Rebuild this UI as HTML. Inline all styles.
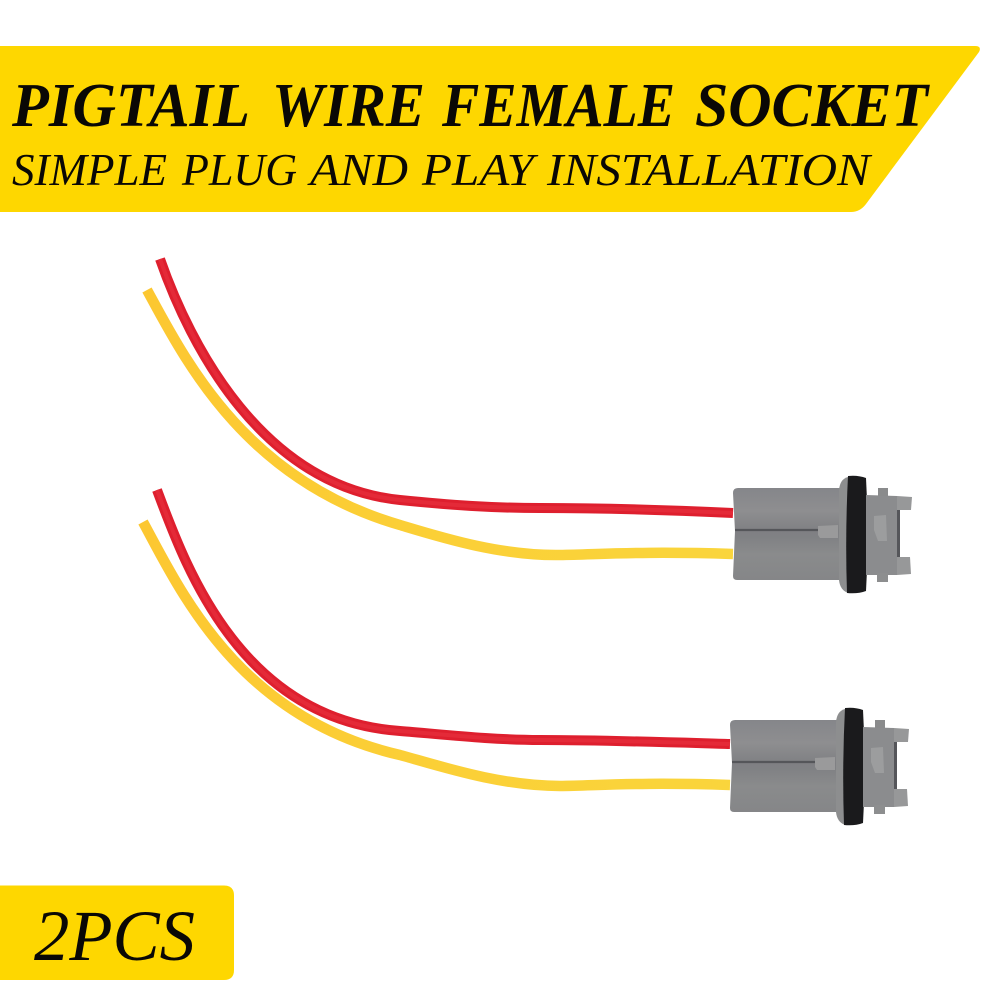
<!DOCTYPE html>
<html>
<head>
<meta charset="utf-8">
<style>
html,body{margin:0;padding:0;background:#fff;width:1000px;height:1000px;overflow:hidden}
svg{display:block}
text{font-family:"Liberation Serif",serif;font-style:italic;fill:#0a0805}
</style>
</head>
<body>
<svg width="1000" height="1000" viewBox="0 0 1000 1000" xmlns="http://www.w3.org/2000/svg">
<defs>
<linearGradient id="lobe" x1="0" y1="0" x2="0" y2="1">
<stop offset="0" stop-color="#85868a"/><stop offset=".25" stop-color="#8e8e90"/><stop offset=".47" stop-color="#7f8083"/><stop offset=".53" stop-color="#808184"/><stop offset=".72" stop-color="#8a8b8c"/><stop offset="1" stop-color="#858688"/>
</linearGradient>
<linearGradient id="yw" gradientUnits="userSpaceOnUse" x1="140" y1="0" x2="735" y2="0">
<stop offset="0" stop-color="#fcc731"/><stop offset=".45" stop-color="#fbcf36"/><stop offset="1" stop-color="#fad53c"/>
</linearGradient>
<g id="conn">
<path d="M733,493 Q733,488 738,488 L842,488 L842,580 L737,580 Q733,580 733,576 L735,531 Z" fill="url(#lobe)"/>
<path d="M735,530 L818,530" stroke="#55565a" stroke-width="2.2" fill="none"/>
<path d="M818,526 L838,525 L838,538 L820,538 L818,535 Z" fill="#9a9a9b"/>
<path d="M848,477 Q840,479 839,490 L839,580 Q840,590 848,593 Z" fill="#8d8e8f"/>
<path d="M848,476 Q858,475 866,478 L867,500 L867,570 L866,591 Q858,594 847,593 Q845,535 848,476 Z" fill="#1a1a1c"/>
<path d="M866,495 L897,496 L897,575 L866,575 Z" fill="#8b8c8e"/>
<path d="M878,488 L888,488 L888,496 L878,496 Z" fill="#8a8b8c"/>
<path d="M877,573 L888,573 L888,582 L877,582 Z" fill="#8d8e8f"/>
<path d="M897,496 L912,497 L911,510 L897,510 Z" fill="#979899"/>
<path d="M897,557 L910,557 L911,574 L897,575 Z" fill="#979899"/>
<path d="M897,510 L900,510 L900,557 L897,557 Z" fill="#55565a"/>
<path d="M874,516 L886,515 L887,541 L878,541 L874,530 Z" fill="#9c9d9e"/>
</g>
</defs>

<path d="M0,46 L975,46 Q982,46 979,52 L866,204 Q860,212 851,212 L0,212 Z" fill="#fed700"/>

<g font-size="62" font-weight="bold">
<text x="12" y="126" textLength="238" lengthAdjust="spacingAndGlyphs">PIGTAIL</text>
<text x="272" y="126" textLength="153" lengthAdjust="spacingAndGlyphs">WIRE</text>
<text x="442" y="126" textLength="233" lengthAdjust="spacingAndGlyphs">FEMALE</text>
<text x="695" y="126" textLength="233" lengthAdjust="spacingAndGlyphs">SOCKET</text>
</g>
<g font-size="46">
<text x="12" y="185" textLength="155" lengthAdjust="spacingAndGlyphs">SIMPLE</text>
<text x="182" y="185" textLength="115" lengthAdjust="spacingAndGlyphs">PLUG</text>
<text x="310" y="185" textLength="98" lengthAdjust="spacingAndGlyphs">AND</text>
<text x="422" y="185" textLength="112" lengthAdjust="spacingAndGlyphs">PLAY</text>
<text x="547" y="185" textLength="323" lengthAdjust="spacingAndGlyphs">INSTALLATION</text>
</g>

<path d="M0,885.500 L224,885.500 Q234,885.500 234,895.500 L234,970 Q234,980 224,980 L0,980 Z" fill="#fed700"/>
<text x="34" y="960" font-size="72" textLength="161" lengthAdjust="spacingAndGlyphs">2PCS</text>

<!-- upper wires -->
<g fill="none">
<path d="M160,259 C190,345 262,486 400,500 C450,505 490,508 540,508 C600,508 670,510 733,513" stroke="#de1f2e" stroke-width="10"/>
<path d="M160,259 C190,345 262,486 400,500 C450,505 490,508 540,508 C600,508 670,510 733,513" stroke="#e42a38" stroke-width="4"/>
<path d="M147,290 C185,360 245,480 400,525 C440,537 500,556 560,555 C600,554.500 640,551 733,554" stroke="url(#yw)" stroke-width="10.500"/>
</g>
<!-- lower wires -->
<g fill="none">
<path d="M157,490 C185,565 240,720 400,731 C440,734 490,740 540,740 C600,740 660,742 730,744" stroke="#de1f2e" stroke-width="10"/>
<path d="M157,490 C185,565 240,720 400,731 C440,734 490,740 540,740 C600,740 660,742 730,744" stroke="#e42a38" stroke-width="4"/>
<path d="M143,522 C180,590 238,718 400,755 C440,766 500,786 560,786 C600,785.500 640,782 730,785" stroke="url(#yw)" stroke-width="10.500"/>
</g>

<use href="#conn"/>
<use href="#conn" x="-3" y="232"/>
</svg>
</body>
</html>
